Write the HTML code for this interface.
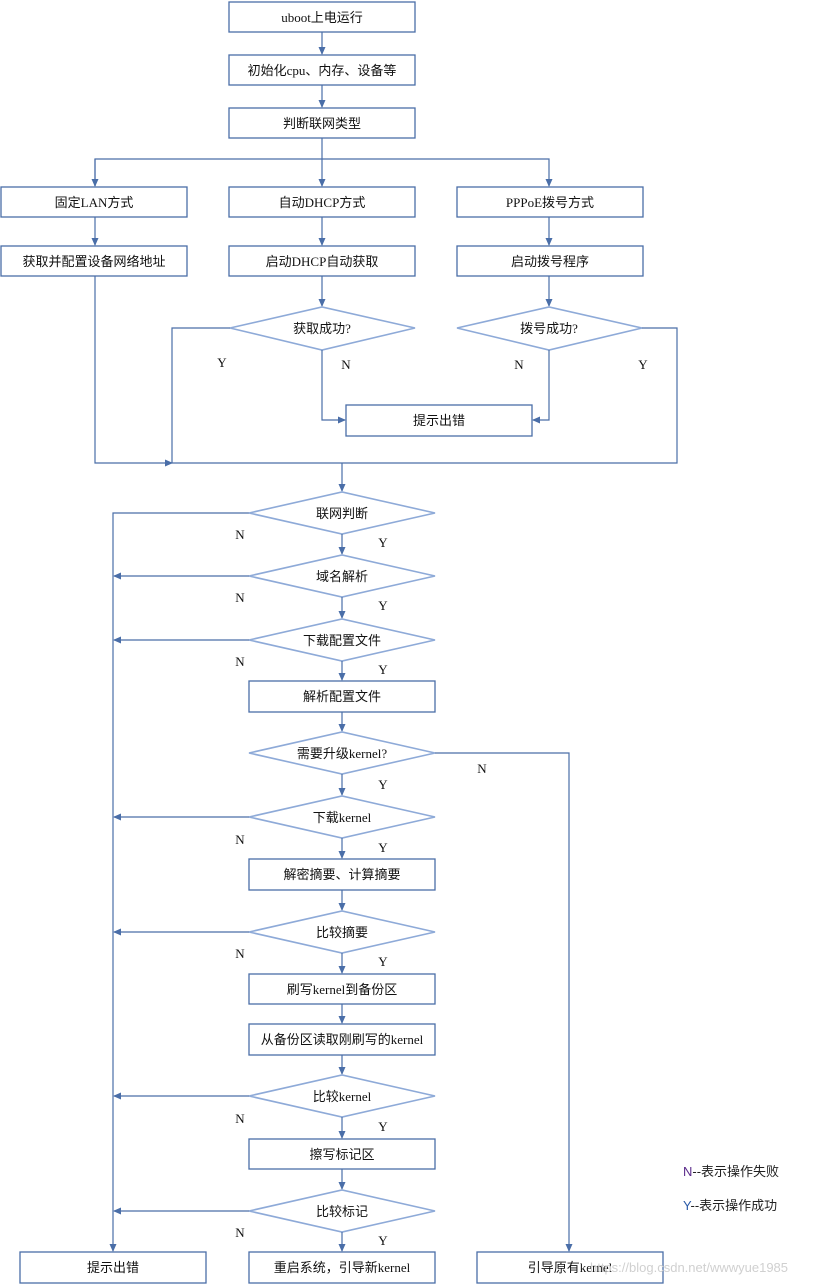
<!DOCTYPE html>
<html><head><meta charset="utf-8"><style>
html,body{margin:0;padding:0;background:#fff}
svg{display:block}
text{font-family:"Liberation Serif","Noto Sans CJK SC",serif;font-size:13px;fill:#111}
.b{fill:#fff;stroke:#4a6ea8;stroke-width:1.3}
.d{fill:#fff;stroke:#8eaad8;stroke-width:1.6}
.l{fill:none;stroke:#4a6ea8;stroke-width:1.2}
.yn{font-family:"Liberation Serif",serif;font-size:13px}
.lg{font-family:"Liberation Sans","Noto Sans CJK SC",sans-serif;font-size:13px;fill:#222}
</style></head><body>
<svg width="830" height="1285" viewBox="0 0 830 1285">
<defs><marker id="a" markerWidth="8" markerHeight="8" refX="7" refY="4" orient="auto" markerUnits="userSpaceOnUse"><path d="M0,0.5 L8,4 L0,7.5 z" fill="#4a6ea8"/></marker></defs>
<g text-anchor="middle">
<!-- top -->
<rect class="b" x="229" y="2" width="186" height="30"/><text x="322" y="22">uboot上电运行</text>
<line class="l" x1="322" y1="32" x2="322" y2="54" marker-end="url(#a)"/>
<rect class="b" x="229" y="55" width="186" height="30"/><text x="322" y="75">初始化cpu、内存、设备等</text>
<line class="l" x1="322" y1="85" x2="322" y2="107" marker-end="url(#a)"/>
<rect class="b" x="229" y="108" width="186" height="30"/><text x="322" y="128">判断联网类型</text>
<line class="l" x1="322" y1="138" x2="322" y2="186" marker-end="url(#a)"/>
<path class="l" d="M95,186 V159 H549 V186" marker-end="url(#a)"/>
<line class="l" x1="95" y1="159" x2="95" y2="186" marker-end="url(#a)"/>
<rect class="b" x="1" y="187" width="186" height="30"/><text x="94" y="207">固定LAN方式</text>
<rect class="b" x="229" y="187" width="186" height="30"/><text x="322" y="207">自动DHCP方式</text>
<rect class="b" x="457" y="187" width="186" height="30"/><text x="550" y="207">PPPoE拨号方式</text>
<line class="l" x1="95" y1="217" x2="95" y2="245" marker-end="url(#a)"/>
<line class="l" x1="322" y1="217" x2="322" y2="245" marker-end="url(#a)"/>
<line class="l" x1="549" y1="217" x2="549" y2="245" marker-end="url(#a)"/>
<rect class="b" x="1" y="246" width="186" height="30"/><text x="94" y="266">获取并配置设备网络地址</text>
<rect class="b" x="229" y="246" width="186" height="30"/><text x="322" y="266">启动DHCP自动获取</text>
<rect class="b" x="457" y="246" width="186" height="30"/><text x="550" y="266">启动拨号程序</text>
<line class="l" x1="322" y1="276" x2="322" y2="306" marker-end="url(#a)"/>
<line class="l" x1="549" y1="276" x2="549" y2="306" marker-end="url(#a)"/>
<polygon class="d" points="230,328 322,307 415,328 322,350"/><text x="322" y="333">获取成功?</text>
<polygon class="d" points="457,328 549,307 642,328 549,350"/><text x="549" y="333">拨号成功?</text>
<path class="l" d="M322,350 V420 H345" marker-end="url(#a)"/>
<path class="l" d="M549,350 V420 H533" marker-end="url(#a)"/>
<rect class="b" x="346" y="405" width="186" height="31"/><text x="439" y="425">提示出错</text>
<text class="yn" x="222" y="367">Y</text><text class="yn" x="346" y="369">N</text>
<text class="yn" x="519" y="369">N</text><text class="yn" x="643" y="369">Y</text>
<path class="l" d="M230,328 H172 V463"/>
<path class="l" d="M95,276 V463 H172" marker-end="url(#a)"/>
<path class="l" d="M172,463 H677 V328 H642"/>
<line class="l" x1="342" y1="463" x2="342" y2="491" marker-end="url(#a)"/>
<!-- lower -->
<path class="l" d="M249,513 H113 V1251" marker-end="url(#a)"/>
<polygon class="d" points="249,513 342,492 435,513 342,534"/><text x="342" y="518">联网判断</text>
<line class="l" x1="342" y1="534" x2="342" y2="554" marker-end="url(#a)"/>
<polygon class="d" points="249,576 342,555 435,576 342,597"/><text x="342" y="581">域名解析</text>
<line class="l" x1="249" y1="576" x2="114" y2="576" marker-end="url(#a)"/>
<line class="l" x1="342" y1="597" x2="342" y2="618" marker-end="url(#a)"/>
<polygon class="d" points="249,640 342,619 435,640 342,661"/><text x="342" y="645">下载配置文件</text>
<line class="l" x1="249" y1="640" x2="114" y2="640" marker-end="url(#a)"/>
<line class="l" x1="342" y1="661" x2="342" y2="680" marker-end="url(#a)"/>
<rect class="b" x="249" y="681" width="186" height="31"/><text x="342" y="701">解析配置文件</text>
<line class="l" x1="342" y1="712" x2="342" y2="731" marker-end="url(#a)"/>
<polygon class="d" points="249,753 342,732 435,753 342,774"/><text x="342" y="758">需要升级kernel?</text>
<path class="l" d="M435,753 H569 V1251" marker-end="url(#a)"/>
<text class="yn" x="482" y="773">N</text>
<line class="l" x1="342" y1="774" x2="342" y2="795" marker-end="url(#a)"/>
<polygon class="d" points="249,817 342,796 435,817 342,838"/><text x="342" y="822">下载kernel</text>
<line class="l" x1="249" y1="817" x2="114" y2="817" marker-end="url(#a)"/>
<line class="l" x1="342" y1="838" x2="342" y2="858" marker-end="url(#a)"/>
<rect class="b" x="249" y="859" width="186" height="31"/><text x="342" y="879">解密摘要、计算摘要</text>
<line class="l" x1="342" y1="890" x2="342" y2="910" marker-end="url(#a)"/>
<polygon class="d" points="249,932 342,911 435,932 342,953"/><text x="342" y="937">比较摘要</text>
<line class="l" x1="249" y1="932" x2="114" y2="932" marker-end="url(#a)"/>
<line class="l" x1="342" y1="953" x2="342" y2="973" marker-end="url(#a)"/>
<rect class="b" x="249" y="974" width="186" height="30"/><text x="342" y="994">刷写kernel到备份区</text>
<line class="l" x1="342" y1="1004" x2="342" y2="1023" marker-end="url(#a)"/>
<rect class="b" x="249" y="1024" width="186" height="31"/><text x="342" y="1044">从备份区读取刚刷写的kernel</text>
<line class="l" x1="342" y1="1055" x2="342" y2="1074" marker-end="url(#a)"/>
<polygon class="d" points="249,1096 342,1075 435,1096 342,1117"/><text x="342" y="1101">比较kernel</text>
<line class="l" x1="249" y1="1096" x2="114" y2="1096" marker-end="url(#a)"/>
<line class="l" x1="342" y1="1117" x2="342" y2="1138" marker-end="url(#a)"/>
<rect class="b" x="249" y="1139" width="186" height="30"/><text x="342" y="1159">擦写标记区</text>
<line class="l" x1="342" y1="1169" x2="342" y2="1189" marker-end="url(#a)"/>
<polygon class="d" points="249,1211 342,1190 435,1211 342,1232"/><text x="342" y="1216">比较标记</text>
<line class="l" x1="249" y1="1211" x2="114" y2="1211" marker-end="url(#a)"/>
<line class="l" x1="342" y1="1232" x2="342" y2="1251" marker-end="url(#a)"/>
<rect class="b" x="20" y="1252" width="186" height="31"/><text x="113" y="1272">提示出错</text>
<rect class="b" x="249" y="1252" width="186" height="31"/><text x="342" y="1272">重启系统，引导新kernel</text>
<rect class="b" x="477" y="1252" width="186" height="31"/><text x="570" y="1272">引导原有kernel</text>
<!-- Y/N labels -->
<text class="yn" x="240" y="539">N</text><text class="yn" x="383" y="547">Y</text>
<text class="yn" x="240" y="602">N</text><text class="yn" x="383" y="610">Y</text>
<text class="yn" x="240" y="666">N</text><text class="yn" x="383" y="674">Y</text>
<text class="yn" x="383" y="789">Y</text>
<text class="yn" x="240" y="844">N</text><text class="yn" x="383" y="852">Y</text>
<text class="yn" x="240" y="958">N</text><text class="yn" x="383" y="966">Y</text>
<text class="yn" x="240" y="1123">N</text><text class="yn" x="383" y="1131">Y</text>
<text class="yn" x="240" y="1237">N</text><text class="yn" x="383" y="1245">Y</text>
</g>
<text class="lg" x="683" y="1176"><tspan fill="#5a2a8a">N</tspan>--表示操作失败</text>
<text class="lg" x="683" y="1210"><tspan fill="#2a5aa8">Y</tspan>--表示操作成功</text>
<text x="590" y="1272" style="font-family:'Liberation Sans',sans-serif;font-size:13px;fill:#d0d0d0">https://blog.csdn.net/wwwyue1985</text>
</svg>
</body></html>
